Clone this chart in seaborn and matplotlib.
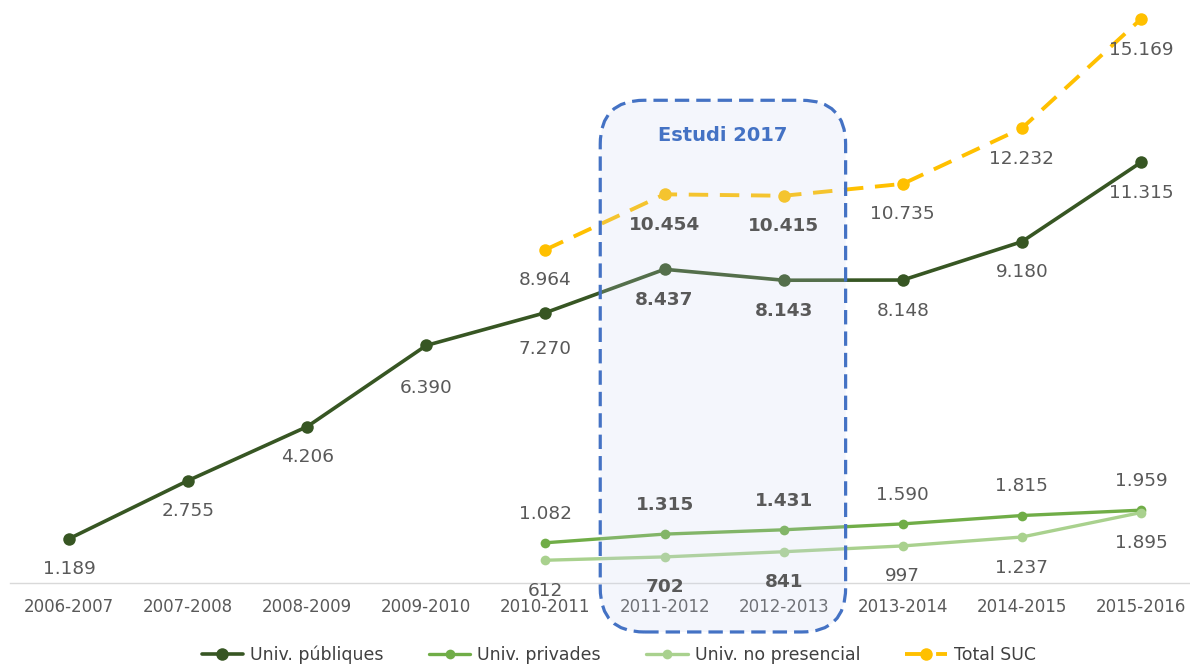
import numpy as np
import pandas as pd
import matplotlib
matplotlib.use("Agg")
import matplotlib.pyplot as plt
import matplotlib.transforms as mtransforms
from matplotlib.patches import FancyBboxPatch
import seaborn as sns

# ---------------- data ----------------
periods = ["2006-2007", "2007-2008", "2008-2009", "2009-2010", "2010-2011",
           "2011-2012", "2012-2013", "2013-2014", "2014-2015", "2015-2016"]
publiques = [1189, 2755, 4206, 6390, 7270, 8437, 8143, 8148, 9180, 11315]
privades = [np.nan, np.nan, np.nan, np.nan, 1082, 1315, 1431, 1590, 1815, 1959]
no_presencial = [np.nan, np.nan, np.nan, np.nan, 612, 702, 841, 997, 1237, 1895]
total_suc = [np.nan, np.nan, np.nan, np.nan, 8964, 10454, 10415, 10735, 12232, 15169]
series_names = ["Univ. públiques", "Univ. privades", "Univ. no presencial", "Total SUC"]
study_periods = ["2011-2012", "2012-2013"]
study_label = "Estudi 2017"

# ---------------- style ----------------
sns.set_style("white")
plt.rcParams["font.family"] = ["DejaVu Sans"]
label_color = "#595959"
colors = ["#375623", "#70AD47", "#A9D18E", "#FFC000"]

W, H, DPI = 1190, 664, 100
fig = plt.figure(figsize=(W / DPI, H / DPI), dpi=DPI)
ax_left_px, ax_right_px, ax_bottom_px, ax_top_px = 10, 1190, 81, 664
ax = fig.add_axes([ax_left_px / W, ax_bottom_px / H,
                   (ax_right_px - ax_left_px) / W, (ax_top_px - ax_bottom_px) / H])
xlim = (-0.495, 9.411)
ylim = (0, 15680)

x = np.arange(len(periods))
df = pd.DataFrame({"x": x, series_names[0]: publiques, series_names[1]: privades,
                   series_names[2]: no_presencial, series_names[3]: total_suc})

styles = {
    series_names[0]: dict(lw=2.6, ms=9.0, ls="-"),
    series_names[1]: dict(lw=2.4, ms=7.0, ls="-"),
    series_names[2]: dict(lw=2.4, ms=7.0, ls="-"),
    series_names[3]: dict(lw=2.8, ms=9.0, ls=(0, (5, 3))),
}
for name, col in zip(series_names, colors):
    st = styles[name]
    sub = df[["x", name]].dropna()
    sns.lineplot(data=sub, x="x", y=name, ax=ax, color=col, marker="o",
                 markersize=st["ms"], markeredgecolor=col, markeredgewidth=0,
                 linewidth=st["lw"], linestyle=st["ls"], label=name,
                 errorbar=None, clip_on=False, zorder=3)

ax.set_xlim(*xlim)
ax.set_ylim(*ylim)
ax.set_xticks(x)
ax.set_xticklabels(periods)
ax.set_yticks([])
ax.set_xlabel("")
ax.set_ylabel("")
ax.tick_params(axis="x", length=0, pad=11, labelsize=12, labelcolor=label_color)
for s in ["top", "right", "left"]:
    ax.spines[s].set_visible(False)
ax.spines["bottom"].set_color("#D9D9D9")
ax.spines["bottom"].set_linewidth(1.0)

# ---------------- data labels ----------------
def fmt(v):
    return f"{v:,.0f}".replace(",", ".")

offsets = {series_names[0]: -22, series_names[1]: 21,
           series_names[2]: -22, series_names[3]: -22}
extra_offset = {(series_names[0], "2009-2010"): -9, (series_names[0], "2010-2011"): -4}
for name, vals in zip(series_names, [publiques, privades, no_presencial, total_suc]):
    for i, v in enumerate(vals):
        if np.isnan(v):
            continue
        bold = periods[i] in study_periods
        dy = offsets[name] + extra_offset.get((name, periods[i]), 0)
        ax.annotate(fmt(v), (i, v), xytext=(0, dy), textcoords="offset points",
                    ha="center", va="center", fontsize=13.3,
                    fontweight="bold" if bold else "normal",
                    color=label_color, zorder=6, annotation_clip=False)

# ---------------- study box ----------------
ax_w_px = ax_right_px - ax_left_px
ax_h_px = ax_top_px - ax_bottom_px
px_per_x = ax_w_px / (xlim[1] - xlim[0])
i0 = periods.index(study_periods[0])
i1 = periods.index(study_periods[-1])
bx0, bx1 = i0 - 0.54, i1 + 0.52
by0, by1 = -0.084, 0.828
r_px = 44
trans = mtransforms.blended_transform_factory(ax.transData, ax.transAxes)
box = FancyBboxPatch((bx0, by0), bx1 - bx0, by1 - by0,
                     boxstyle=f"round,pad=0,rounding_size={r_px / px_per_x}",
                     mutation_aspect=px_per_x / ax_h_px,
                     transform=trans, facecolor=(0.80, 0.84, 0.94, 0.2),
                     edgecolor="#4472C4", linewidth=2.3, linestyle=(0, (4.5, 2.2)),
                     clip_on=False, zorder=4)
ax.add_patch(box)
ax.text((bx0 + bx1) / 2, 0.768, study_label, transform=trans, ha="center", va="center",
        fontsize=14, fontweight="bold", color="#4472C4", zorder=6)

# ---------------- legend ----------------
handles, labels = ax.get_legend_handles_labels()
leg = fig.legend(handles, labels, loc="center", bbox_to_anchor=(0.52, 0.014),
                 ncol=4, frameon=False, fontsize=12.5, handlelength=2.4,
                 handletextpad=0.4, columnspacing=2.6)
for t in leg.get_texts():
    t.set_color("#404040")
if ax.get_legend() is not None:
    ax.get_legend().remove()

fig.savefig("out.png", dpi=DPI)
